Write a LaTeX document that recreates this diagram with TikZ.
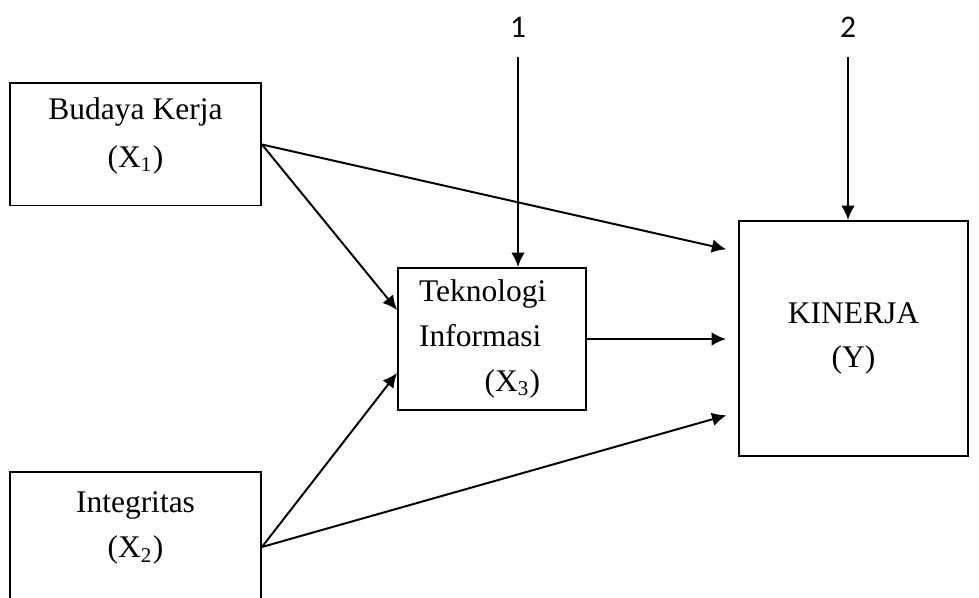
\documentclass[tikz,border=0pt]{standalone}
\usepackage{fontspec}
\setmainfont{Liberation Serif}
\newfontfamily\numfont{Carlito}
\usetikzlibrary{arrows.meta,calc}

\begin{document}
\begin{tikzpicture}[
    x=0.381pt, y=-0.381pt,
    varbox/.style={draw, line width=0.75pt, align=center, font=\fontsize{12}{17}\selectfont},
    arrow/.style={draw, line width=0.75pt, -{Latex[length=5.5pt,width=5.2pt]}},
    errlabel/.style={font=\numfont\fontsize{12}{14}\selectfont, inner sep=0pt}
]

\useasboundingbox (0,0) rectangle (979,598);
\clip (0,0) rectangle (979,598);

% Define variable boxes
\node[varbox, minimum width=95.6pt, minimum height=46.5pt] (X1) at (135.5,144.5) {Budaya Kerja\\[1pt](X\textsubscript{1})\\[-8pt]\mbox{}};
\node[varbox, minimum width=95.6pt, minimum height=57.2pt] (X2) at (135.5,547) {Integritas\\(X\textsubscript{2})\\\mbox{}};
\node[varbox, align=left, text width=55.6pt, inner xsep=8pt, inner ysep=2pt, minimum height=54.1pt] (X3) at (492,339) {Teknologi\\Informasi\\\hspace*{25pt}(X\textsubscript{3})};
\node[varbox, minimum width=87.2pt, minimum height=89.5pt] (Y) at (853.5,338.5) {KINERJA\\(Y)};

% Residual labels
\node[errlabel] (e1) at (518,27) {1};
\node[errlabel] (e2) at (848,27) {2};

% Define paths
\draw[arrow, shorten <=11.4pt] (e1.center) -- (e1.center |- X3.north);
\draw[arrow, shorten <=11.4pt] (e2.center) -- (e2.center |- Y.north);
\draw[arrow] (X1.east) -- ($(X3.west)+(0,-29)$);
\draw[arrow] (X2.east) -- ($(X3.west)+(0,34)$);
\draw[arrow, shorten >=4.6pt] (X1.east) -- ($(Y.west)+(0,-86.5)$);
\draw[arrow, shorten >=4.6pt] (X3.east) -- (X3.east -| Y.west);
\draw[arrow, shorten >=4.6pt] (X2.east) -- ($(Y.west)+(0,73.5)$);

\end{tikzpicture}
\end{document}
